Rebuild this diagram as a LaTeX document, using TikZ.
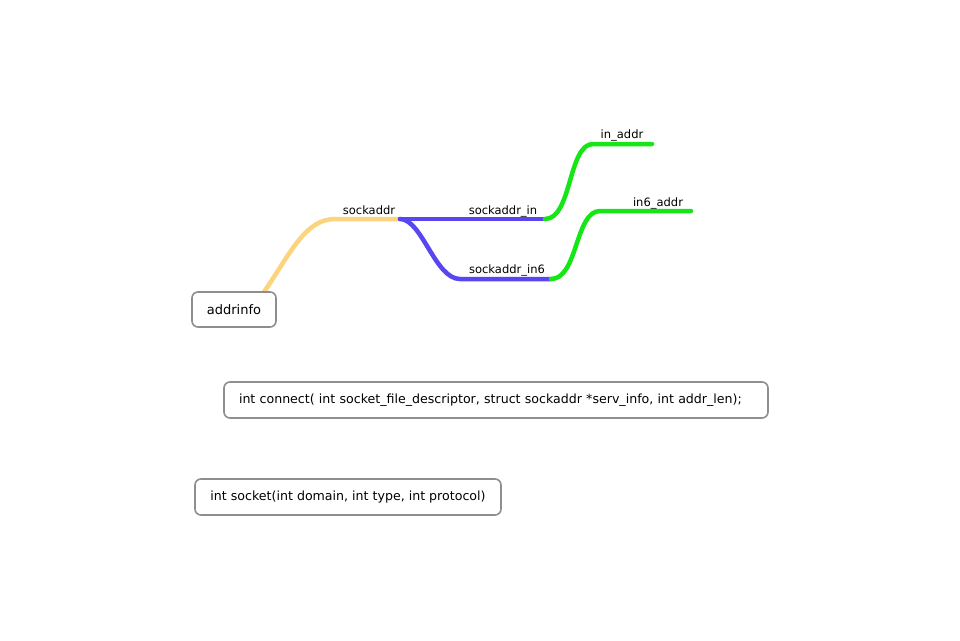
\documentclass[tikz,border=0pt]{standalone}
\usepackage{fontspec}
\setmainfont{DejaVu Sans}
\begin{document}
\begin{tikzpicture}[x=1pt,y=-1pt,
  branch/.style={line width=4.5pt,line cap=round},
  orangeb/.style={branch,draw=orangec},
  blueb/.style={branch,draw=bluec},
  greenb/.style={branch,draw=greenc},
  lbl/.style={anchor=base,inner sep=0pt,font=\fontsize{11.5}{13}\selectfont},
  box/.style={draw=boxc,line width=1.6pt,rounded corners=6pt,fill=white,font=\fontsize{12.6}{14}\selectfont,inner sep=0pt}
]
\definecolor{orangec}{HTML}{FCD47E}
\definecolor{bluec}{HTML}{5846F0}
\definecolor{greenc}{HTML}{16E616}
\definecolor{boxc}{HTML}{8E8E8E}
\useasboundingbox[fill=white] (0,0) rectangle (960,640);

% line endpoints
\coordinate (oa) at (264,292);
\coordinate (sa1) at (335,219);
\coordinate (sa2) at (400,219);
\coordinate (in1) at (545,219);
\coordinate (in61) at (460,279);
\coordinate (in62) at (551,279);
\coordinate (ia1) at (593,144);
\coordinate (ia2) at (652,144);
\coordinate (i6a1) at (600,211);
\coordinate (i6a2) at (691,211);

% branches
\draw[orangeb] (oa) .. controls (290,254) and (305,219) .. (sa1) -- (sa2);
\draw[blueb] (sa2) -- (in1);
\draw[blueb] (sa2) .. controls (422,219) and (435,279) .. (in61) -- (in62);
\draw[greenb] (in1) .. controls (572,219) and (568,144) .. (ia1) -- (ia2);
\draw[greenb] (in62) .. controls (578,279) and (575,211) .. (i6a1) -- (i6a2);

% boxes
\node[box,minimum width=84pt,minimum height=35pt,font=\fontsize{13}{15}\selectfont] (addrinfo) at (234,309.5) {addrinfo};
\node[box,minimum height=36pt,inner xsep=15pt,text width=514pt,align=left] (connect) at (496,400) {int connect( int socket\_file\_descriptor, struct sockaddr *serv\_info, int addr\_len);};
\node[box,minimum width=306pt,minimum height=36pt] (socket) at (348,497) {int socket(int domain, int type, int protocol)};

% labels
\node[lbl] (lsa) at (369,214) {sockaddr};
\node[lbl] (lin) at (503,214) {sockaddr\_in};
\node[lbl] (lin6) at (507,273) {sockaddr\_in6};
\node[lbl] (lia) at (622,138) {in\_addr};
\node[lbl] (li6a) at (658,206) {in6\_addr};
\end{tikzpicture}
\end{document}
